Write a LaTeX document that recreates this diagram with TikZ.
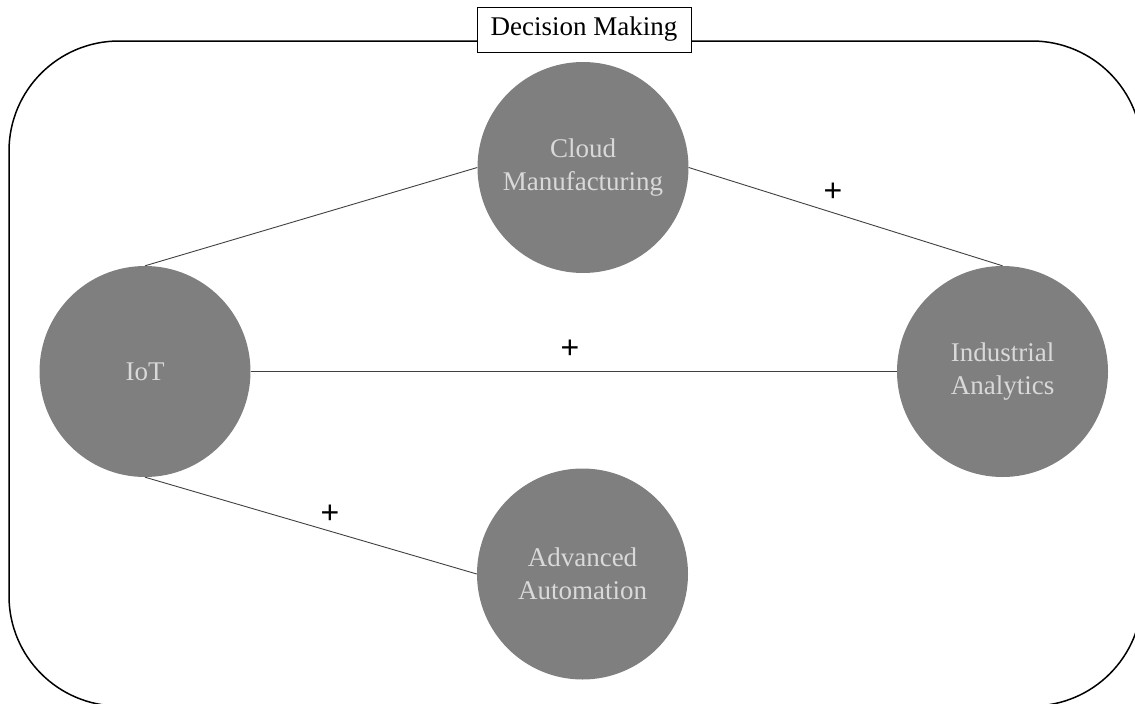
\documentclass[tikz,border=0pt]{standalone}
\usepackage{fontspec}
\setmainfont{Liberation Serif}
\newfontfamily\plusfont{Liberation Sans}
\definecolor{circfill}{HTML}{7F7F7F}
\definecolor{circtext}{HTML}{D9D9D9}
\definecolor{linkcol}{HTML}{404040}
\begin{document}
\begin{tikzpicture}[x=1pt,y=-1pt,
  topic/.style={circle,fill=circfill,minimum size=211pt,inner sep=0pt,
    text=circtext,align=center,font=\fontsize{27}{33.5}\selectfont},
  link/.style={draw=linkcol,line width=0.9pt},
  sign/.style={font=\plusfont\fontsize{32}{34}\selectfont,text=black,inner sep=0pt},
  titlebox/.style={draw=black,fill=white,line width=1pt,minimum width=214pt,
    minimum height=45pt,inner sep=0pt,font=\fontsize{27}{30}\selectfont}]
\useasboundingbox (0,0) rectangle (1135,704);
\begin{scope}
\clip (0,0) rectangle (1135,704);
\draw[line width=1.5pt,rounded corners=110pt] (9,41) rectangle (1142,706);
\end{scope}
\node[titlebox] (title) at (584,29.5) {Decision Making};
\node[topic] (cloud) at (583,167.5) {Cloud\\Manufacturing};
\node[topic] (iot) at (145,371.5) {IoT};
\node[topic] (ia) at (1002.5,371.5) {Industrial\\Analytics};
\node[topic] (aa) at (582.5,574) {Advanced\\Automation};
\draw[link] (iot.north) -- (cloud.west);
\draw[link] (cloud.east) -- (ia.north);
\draw[link] (iot.east) -- (ia.west);
\draw[link] (iot.south) -- (aa.west);
\node[sign] (p1) at (833,192) {+};
\node[sign] (p2) at (570,349) {+};
\node[sign] (p3) at (330,514) {+};
\end{tikzpicture}
\end{document}
